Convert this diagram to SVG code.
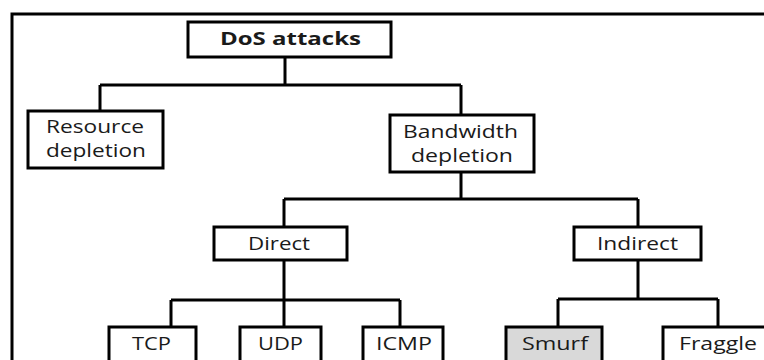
<svg xmlns="http://www.w3.org/2000/svg" width="764" height="360" viewBox="0 0 764 360">
<style>
.box{fill:#fff;stroke:#000;stroke-width:3}
.gray{fill:#d9d9d9}
.lbl{font-family:"Open Sans","Liberation Sans",sans-serif;font-size:18px;fill:#1a1a1a;text-anchor:start}
.bold{font-weight:bold}
.con{fill:none;stroke:#000;stroke-width:3}
</style>
<rect width="764" height="360" fill="#fff"/>
<path d="M12,362 V14 H770" fill="none" stroke="#000" stroke-width="3"/>
<g id="connectors">
<path class="con" d="M285,57 V85 M100,85 H461 M100,85 V111 M461,85 V115"/>
<path class="con" d="M461,172 V199 M284,199 H638 M284,199 V227 M638,199 V227"/>
<path class="con" d="M284,260 V300 M171,300 H400 M171,300 V327 M284,300 V327 M400,300 V327"/>
<path class="con" d="M638,260 V299 M558,299 H718 M558,299 V327 M718,299 V327"/>
</g>
<g id="dos"><rect class="box" x="188" y="22" width="203" height="35"/><text class="lbl bold" x="220" y="45" font-size="19.5" textLength="141" lengthAdjust="spacingAndGlyphs">DoS attacks</text></g>
<g id="resource"><rect class="box" x="28" y="111" width="135" height="57"/><text class="lbl" x="46" y="133" textLength="98" lengthAdjust="spacingAndGlyphs">Resource</text><text class="lbl" x="46" y="157" textLength="100" lengthAdjust="spacingAndGlyphs">depletion</text></g>
<g id="bandwidth"><rect class="box" x="390" y="115" width="144" height="57"/><text class="lbl" x="403" y="138" textLength="115" lengthAdjust="spacingAndGlyphs">Bandwidth</text><text class="lbl" x="411" y="162" textLength="102" lengthAdjust="spacingAndGlyphs">depletion</text></g>
<g id="direct"><rect class="box" x="214" y="227" width="133" height="33"/><text class="lbl" x="248" y="250" textLength="62" lengthAdjust="spacingAndGlyphs">Direct</text></g>
<g id="indirect"><rect class="box" x="574" y="227" width="127" height="33"/><text class="lbl" x="597" y="250" textLength="81" lengthAdjust="spacingAndGlyphs">Indirect</text></g>
<g id="tcp"><rect class="box" x="109" y="327" width="87" height="40"/><text class="lbl" x="132" y="350" textLength="39" lengthAdjust="spacingAndGlyphs">TCP</text></g>
<g id="udp"><rect class="box" x="240" y="327" width="81" height="40"/><text class="lbl" x="258" y="350" textLength="45" lengthAdjust="spacingAndGlyphs">UDP</text></g>
<g id="icmp"><rect class="box" x="363" y="327" width="80" height="40"/><text class="lbl" x="376" y="350" textLength="56" lengthAdjust="spacingAndGlyphs">ICMP</text></g>
<g id="smurf"><rect class="box gray" x="506" y="327" width="96" height="40"/><text class="lbl" x="522" y="350" textLength="66" lengthAdjust="spacingAndGlyphs">Smurf</text></g>
<g id="fraggle"><rect class="box" x="663" y="327" width="110" height="40"/><text class="lbl" x="679" y="350" textLength="78" lengthAdjust="spacingAndGlyphs">Fraggle</text></g>
</svg>
